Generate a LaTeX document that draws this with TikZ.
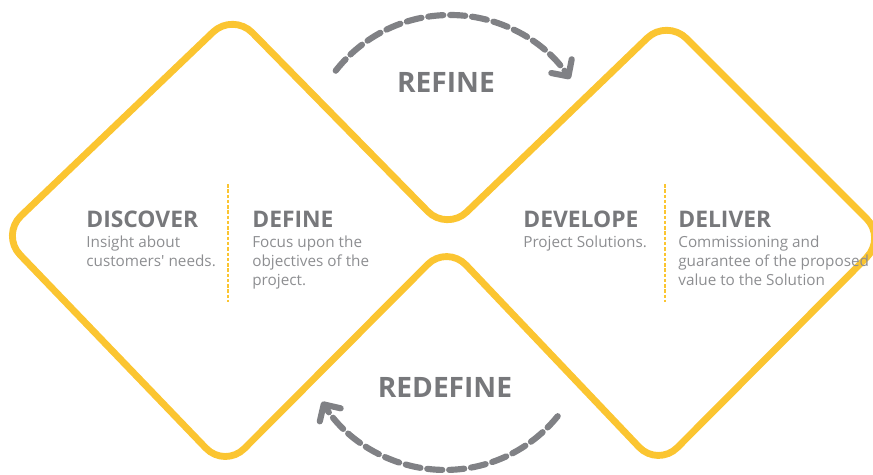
\documentclass[tikz,border=0pt]{standalone}
\usepackage{fontspec}
\setmainfont{Open Sans}
\usetikzlibrary{arrows.meta,positioning}
\definecolor{ddyellow}{HTML}{FBC531}
\definecolor{ddhead}{HTML}{77787B}
\definecolor{ddtext}{HTML}{8D8E91}
\definecolor{ddarrow}{HTML}{808185}

\begin{document}
\begin{tikzpicture}
      [
        x = 0.02cm, y = 0.02cm,
        diamondline/.style = {draw=ddyellow, line width=3.9pt, rounded corners=0.55cm, line join=round},
        divider/.style = {draw=ddyellow, line width=1.1pt, dash pattern=on 2pt off 1pt},
        phase/.style = {anchor=base west, inner sep=0, text=ddhead, font=\fontsize{13}{15}\selectfont\bfseries},
        blurb/.style = {anchor=north west, inner sep=0, align=left, text=ddtext, font=\fontsize{8.7}{10.8}\selectfont},
        looplabel/.style = {anchor=base, inner sep=0, text=ddhead, font=\fontsize{16}{18}\selectfont\bfseries},
        cycle arrow/.style = {draw=ddarrow, line width=3.5pt, line cap=round, dash pattern=on 8.6pt off 3.9pt,
            -{Straight Barb[length=7pt,width=14pt,round]}},
      ]

      \useasboundingbox (0,0) rectangle (873,-474);

      \draw[diamondline] (117,-124) -- (233,-13) -- (447,-231) -- (667,-19) -- (886,-238)
        -- (658,-467) -- (447,-245) -- (225,-468) -- (1,-235) -- cycle;

      \draw[divider] (228,-184) -- (228,-302);
      \draw[divider] (665,-184) -- (665,-302);

      \node[phase] (discover) at (86,-227) {DISCOVER};
      \node[blurb] (discovertext) at (86,-236) {Insight about\\customers\textquotesingle{} needs.};
      \node[phase] (define) at (252,-227) {DEFINE};
      \node[blurb] (definetext) at (252,-236) {Focus upon the\\objectives of the\\project.};
      \node[phase] (develope) at (523,-227) {DEVELOPE};
      \node[blurb] (developetext) at (523,-236) {Project Solutions.};
      \node[phase] (deliver) at (678,-227) {DELIVER};
      \node[blurb] (delivertext) at (678,-236) {Commissioning and\\guarantee of the proposed\\value to the Solution};

      \node[looplabel] (refine) at (446,-92) {REFINE};
      \node[looplabel] (redefine) at (445,-397) {REDEFINE};

      \coordinate (refinefrom) at (335.7,-70.7);
      \coordinate (redefinefrom) at (557.7,-416.2);
      \draw[cycle arrow] (refinefrom) arc[start angle=142, end angle=34, radius=2.9cm];
      \draw[cycle arrow] (redefinefrom) arc[start angle=-39, end angle=-148, radius=2.9cm];

    \end{tikzpicture}
\end{document}
